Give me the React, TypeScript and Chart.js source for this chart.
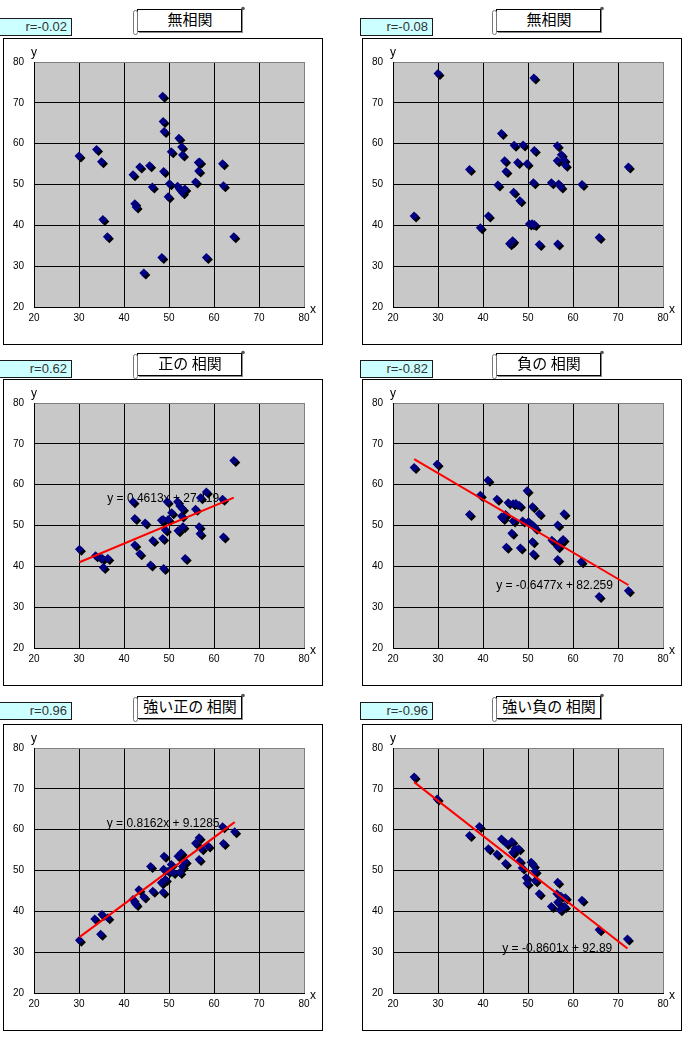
import React, { useEffect, useRef } from "react";
import { Chart, registerables } from "chart.js";

Chart.register(...registerables);

// ---- axis ----
const axisMin = 20;
const axisMax = 80;
const axisStep = 10;

// ---- panel 1: 無相関 r=-0.02 ----
const p1X = [30.0, 33.9, 35.0, 35.3, 36.3, 42.0, 42.4, 42.7, 43.5, 44.4, 45.7, 46.3, 48.4, 48.6, 48.7, 48.8, 48.9, 49.8, 50.1, 50.5, 51.9, 52.2, 52.4, 52.8, 53.0, 53.0, 53.5, 55.9, 56.5, 56.6, 56.8, 58.3, 61.9, 62.1, 64.4];
const p1Y = [57.0, 58.6, 55.6, 41.4, 37.2, 52.4, 45.3, 44.5, 54.3, 28.3, 54.6, 49.4, 32.1, 71.6, 65.4, 53.2, 63.0, 47.0, 50.2, 58.0, 49.6, 61.3, 48.8, 59.2, 57.2, 48.0, 48.9, 50.6, 55.4, 53.3, 55.5, 32.1, 55.1, 49.7, 37.2];

// ---- panel 2: 無相関 r=-0.08 ----
const p2X = [24.7, 30.0, 37.0, 39.4, 41.2, 43.3, 44.1, 44.8, 45.1, 45.9, 46.4, 46.6, 46.8, 46.9, 47.7, 48.2, 48.9, 49.8, 50.3, 50.9, 51.2, 51.3, 51.4, 51.4, 52.5, 55.2, 56.5, 56.5, 56.6, 56.8, 57.3, 57.4, 58.0, 58.3, 62.0, 65.8, 72.3];
const p2Y = [42.3, 77.2, 53.7, 39.4, 42.3, 49.9, 62.5, 55.8, 53.2, 35.5, 35.9, 36.2, 48.1, 59.6, 55.4, 46.0, 59.7, 55.1, 40.3, 40.4, 50.4, 76.1, 58.3, 40.2, 35.3, 50.4, 59.5, 55.8, 35.4, 50.1, 49.4, 57.3, 56.0, 54.7, 50.0, 37.0, 54.3];

// ---- panel 3: 正の相関 r=0.62 ----
const p3X = [30.1, 33.7, 34.6, 35.2, 35.4, 36.4, 42.0, 42.4, 42.4, 43.5, 44.7, 45.9, 46.4, 48.3, 48.6, 48.7, 48.8, 49.2, 49.6, 49.8, 50.6, 51.9, 52.0, 52.4, 52.8, 53.0, 53.1, 53.6, 55.9, 56.7, 56.9, 57.0, 58.3, 61.9, 62.1, 64.4];
const p3Y = [44.2, 42.6, 42.2, 41.9, 39.7, 41.9, 55.8, 51.7, 45.2, 43.1, 50.6, 40.3, 46.3, 51.3, 46.8, 51.5, 39.5, 48.9, 55.8, 51.5, 53.1, 55.8, 48.7, 54.8, 52.3, 54.1, 49.7, 41.9, 54.0, 49.7, 48.0, 56.8, 58.2, 56.4, 47.2, 65.9];

// ---- panel 4: 負の相関 r=-0.82 ----
const p4X = [24.7, 29.8, 37.0, 39.4, 41.1, 43.1, 44.1, 44.4, 45.0, 45.2, 45.6, 46.4, 46.7, 46.7, 47.3, 48.1, 48.3, 48.8, 49.8, 50.1, 51.0, 51.0, 51.0, 51.2, 51.6, 52.5, 55.3, 56.6, 56.6, 56.6, 57.3, 57.8, 58.0, 61.8, 65.8, 72.3];
const p4Y = [64.2, 65.0, 52.7, 57.4, 61.1, 56.4, 52.1, 51.7, 52.7, 44.7, 55.6, 48.1, 55.3, 51.1, 55.4, 54.9, 44.5, 51.1, 58.5, 50.9, 50.1, 54.6, 46.0, 43.0, 49.3, 52.9, 46.4, 50.1, 44.8, 41.7, 46.0, 46.6, 52.9, 41.1, 32.6, 34.0];

// ---- panel 5: 強い正の相関 r=0.96 ----
const p5X = [30.1, 33.5, 34.8, 35.1, 36.4, 42.0, 42.4, 42.7, 43.3, 44.4, 45.9, 46.4, 48.3, 48.7, 48.9, 48.8, 49.2, 49.8, 50.5, 50.9, 52.0, 52.4, 52.7, 53.0, 53.6, 55.9, 56.7, 56.7, 57.2, 58.7, 61.9, 62.1, 64.6];
const p5Y = [32.9, 38.1, 34.4, 39.2, 38.4, 42.9, 42.1, 41.7, 45.3, 43.5, 51.0, 44.9, 47.0, 44.7, 53.5, 50.3, 47.8, 49.8, 51.5, 49.5, 53.5, 49.5, 54.3, 51.0, 52.2, 56.7, 52.7, 58.0, 55.3, 56.0, 60.7, 56.6, 59.5];

// ---- panel 6: 強い負の相関 r=-0.96 ----
const p6X = [24.7, 29.8, 37.0, 39.2, 41.2, 43.1, 44.1, 45.0, 45.2, 46.4, 46.6, 47.1, 47.9, 48.1, 48.7, 49.6, 49.8, 50.7, 51.2, 51.6, 51.6, 52.5, 55.2, 56.6, 56.4, 56.6, 57.1, 57.3, 58.1, 58.3, 62.0, 65.8, 72.1];
const p6Y = [72.9, 67.5, 58.6, 60.8, 55.3, 54.0, 57.7, 51.7, 56.6, 57.1, 54.4, 55.3, 55.3, 52.3, 50.6, 48.2, 46.9, 52.0, 51.2, 49.8, 47.5, 44.3, 41.2, 47.1, 44.3, 42.2, 40.4, 43.7, 41.2, 43.3, 42.7, 35.5, 33.2];

const panelX = [p1X, p2X, p3X, p4X, p5X, p6X];
const panelY = [p1Y, p2Y, p3Y, p4Y, p5Y, p6Y];

const titles = ["無相関", "無相関", "正の 相関", "負の 相関", "強い正の 相関", "強い負の 相関"];
const rLabels = ["r=-0.02", "r=-0.08", "r=0.62", "r=-0.82", "r=0.96", "r=-0.96"];
const trendSlopes = [null, null, 0.4613, -0.6477, 0.8162, -0.8601];
const trendIntercepts = [null, null, 27.119, 82.259, 9.1285, 92.89];
const trendLabels = [null, null, "y = 0.4613x + 27.119", "y = -0.6477x + 82.259", "y = 0.8162x + 9.1285", "y = -0.8601x + 92.89"];
const trendLabelAt = [null, null, [48.7, 56.5], [55.9, 35.3], [48.7, 61.5], [56.5, 30.9]];

// ---- layout ----
const boxLeft = [3, 362];
const boxTop = [38, 379, 724];
const rTop = [18, 360, 702];
const titleTop = [7, 351, 694];
const BOX_W = 320;
const BOX_H = 307;

const decorPlugin = {
  id: "decor",
  beforeDraw(chart: any) {
    const { ctx, chartArea: a } = chart;
    ctx.save();
    ctx.fillStyle = "#c8c8c8";
    ctx.fillRect(a.left, a.top, a.right - a.left, a.bottom - a.top);
    ctx.restore();
  },
  beforeDatasetsDraw(chart: any, _args: any, opts: any) {
    if (!opts || !opts.label) return;
    const ctx = chart.ctx;
    const x = chart.scales.x.getPixelForValue(opts.at[0]);
    const y = chart.scales.y.getPixelForValue(opts.at[1]);
    ctx.save();
    ctx.font = '12px "Liberation Sans", Arial, sans-serif';
    ctx.fillStyle = "#000";
    ctx.textAlign = "center";
    ctx.textBaseline = "middle";
    ctx.fillText(opts.label, x, y);
    ctx.restore();
  },
  beforeDatasetDraw(chart: any, args: any) {
    if (!chart.data.datasets[args.index].marks) return;
    const ctx = chart.ctx;
    ctx.save();
    ctx.shadowColor = "#000000";
    ctx.shadowOffsetX = 2;
    ctx.shadowOffsetY = 2;
    ctx.shadowBlur = 0;
  },
  afterDatasetDraw(chart: any, args: any) {
    if (!chart.data.datasets[args.index].marks) return;
    chart.ctx.restore();
  },
  afterDraw(chart: any) {
    const { ctx, chartArea: a } = chart;
    ctx.save();
    ctx.font = '12px "Liberation Sans", Arial, sans-serif';
    ctx.fillStyle = "#000";
    ctx.textAlign = "center";
    ctx.textBaseline = "middle";
    ctx.fillText("y", a.left, a.top - 9);
    ctx.fillText("x", a.right + 9, a.bottom + 3);
    ctx.restore();
  },
};

function Panel({ idx }: { idx: number }) {
  const ref = useRef<HTMLCanvasElement | null>(null);
  useEffect(() => {
    if (!ref.current) return;
    const xs = panelX[idx];
    const ys = panelY[idx];
    const pts = xs.map((x, i) => ({ x, y: ys[i] }));
    const datasets: any[] = [];
    const slope = trendSlopes[idx];
    const icpt = trendIntercepts[idx];
    if (slope !== null && icpt !== null) {
      const lo = Math.min(...xs);
      const hi = Math.max(...xs);
      datasets.push({
        data: [
          { x: lo, y: slope * lo + icpt },
          { x: hi, y: slope * hi + icpt },
        ],
        showLine: true,
        borderColor: "#ff0000",
        borderWidth: 2,
        pointRadius: 0,
        pointHoverRadius: 0,
      });
    }
    datasets.push({
      marks: true,
      data: pts,
      pointStyle: "rectRot",
      pointRadius: 4.5,
      backgroundColor: "#000080",
      borderColor: "#000080",
      borderWidth: 0,
    });
    const gridColor = (c: any) => (c.tick && c.tick.value === axisMax ? "#808080" : "#000000");
    const tickFont = { family: '"Liberation Sans", Arial, sans-serif', size: 10 };
    const chart = new Chart(ref.current, {
      type: "scatter",
      data: { datasets },
      plugins: [decorPlugin as any],
      options: {
        animation: false,
        responsive: false,
        devicePixelRatio: 1,
        events: [],
        layout: { padding: { left: 0, top: 24, right: 19, bottom: 0 } },
        plugins: {
          legend: { display: false },
          tooltip: { enabled: false },
          decor: { label: trendLabels[idx], at: trendLabelAt[idx] },
        } as any,
        scales: {
          x: {
            type: "linear",
            min: axisMin,
            max: axisMax,
            ticks: { stepSize: axisStep, color: "#000", font: tickFont, padding: 5, maxRotation: 0 },
            grid: { color: gridColor, lineWidth: 1, drawTicks: false },
            border: { display: true, color: "#000" },
            afterFit: (s: any) => {
              s.height = 38;
            },
          },
          y: {
            type: "linear",
            min: axisMin,
            max: axisMax,
            ticks: { stepSize: axisStep, color: "#000", font: tickFont, padding: 10 },
            grid: { color: gridColor, lineWidth: 1, drawTicks: false },
            border: { display: true, color: "#000" },
            afterFit: (s: any) => {
              s.width = 31;
            },
          },
        } as any,
      },
    } as any);
    return () => chart.destroy();
  }, [idx]);

  const col = idx % 2;
  const row = Math.floor(idx / 2);
  const bx = boxLeft[col];
  const by = boxTop[row];
  const rx = col === 0 ? -1 : 360;
  const tx = bx + 130;
  const ty = titleTop[row];

  return (
    <>
      <div
        style={{
          position: "absolute",
          left: bx,
          top: by,
          width: BOX_W,
          height: BOX_H,
          border: "1px solid #000",
          boxSizing: "border-box",
          background: "#fff",
        }}
      />
      <canvas
        ref={ref}
        width={BOX_W}
        height={BOX_H}
        style={{ position: "absolute", left: bx, top: by, width: BOX_W, height: BOX_H }}
      />
      <div
        style={{
          position: "absolute",
          left: rx,
          top: rTop[row],
          width: 73,
          height: 18,
          border: "1px solid #1a1a1a",
          boxSizing: "border-box",
          background: "#ccffff",
          color: "#333",
          fontFamily: '"Liberation Sans", Arial, sans-serif',
          fontSize: 13,
          lineHeight: "16px",
          textAlign: "right",
          paddingRight: 4,
        }}
      >
        {rLabels[idx]}
      </div>
      <svg
        width={118}
        height={29}
        style={{ position: "absolute", left: tx, top: ty, overflow: "visible" }}
      >
        <rect x={4.5} y={2.5} width={104} height={22} fill="#fff" stroke="#000" strokeWidth={1} />
        <line x1={6} y1={25.5} x2={110} y2={25.5} stroke="#8a8a8a" strokeWidth={1} />
        <line x1={109.5} y1={2} x2={109.5} y2={25} stroke="#8a8a8a" strokeWidth={1} />
        <rect x={0.5} y={3.5} width={4} height={24} rx={2} fill="#fff" stroke="#777" strokeWidth={1} />
        <circle cx={110} cy={1.5} r={1.8} fill="#555" />
        <text
          x={57}
          y={14}
          textAnchor="middle"
          dominantBaseline="middle"
          fontFamily='"Noto Sans CJK JP", sans-serif'
          fontSize={15}
          fill="#000"
        >
          {titles[idx]}
        </text>
      </svg>
    </>
  );
}

export default function App() {
  return (
    <div
      style={{
        position: "absolute",
        left: 0,
        top: 0,
        width: 688,
        height: 1037,
        background: "#fff",
        overflow: "hidden",
      }}
    >
      {[0, 1, 2, 3, 4, 5].map((i) => (
        <Panel key={i} idx={i} />
      ))}
    </div>
  );
}
